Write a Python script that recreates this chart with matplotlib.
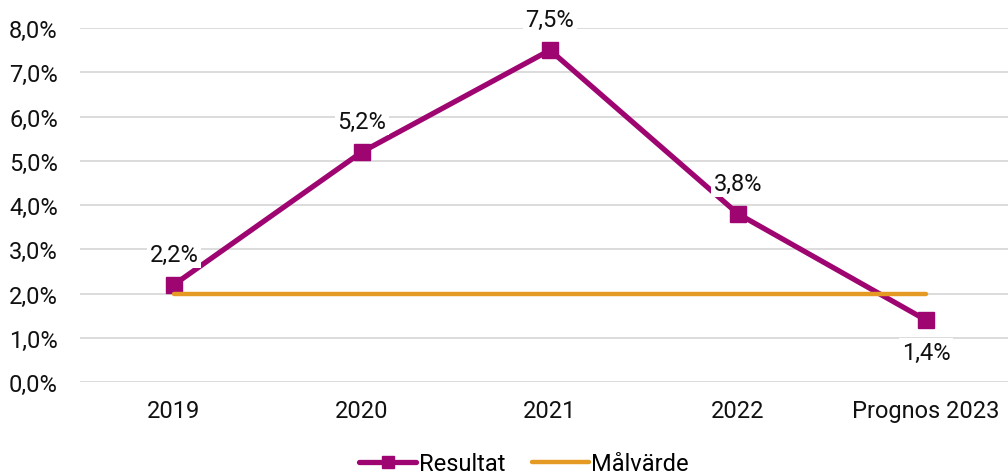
import matplotlib.pyplot as plt
import matplotlib.ticker as mticker

categories = ["2019", "2020", "2021", "2022", "Prognos 2023"]
resultat = [2.2, 5.2, 7.5, 3.8, 1.4]
malvarde = [2.0, 2.0, 2.0, 2.0, 2.0]
label_above = [True, True, True, True, False]

purple = "#9E0571"
orange = "#E59A23"

plt.rcParams['font.family'] = ['Roboto', 'DejaVu Sans']

fig = plt.figure(figsize=(10.08, 4.77), dpi=100)
ax = fig.add_axes([80/1008, 1 - 383/477, 940/1008, (383 - 29)/477])

x = range(len(categories))
ax.plot(x, resultat, color=purple, lw=3.8, marker='s', markersize=12,
        solid_capstyle='round', label='Resultat', zorder=3)
ax.plot(x, malvarde, color=orange, lw=3.2, solid_capstyle='round',
        label='Målvärde', zorder=4)

for xi, v, up in zip(x, resultat, label_above):
    ax.annotate(f"{v:.1f}%".replace('.', ','), (xi, v),
                xytext=(0, 22 if up else -23), textcoords='offset points',
                ha='center', va='center', fontsize=17, color='#111111',
                bbox=dict(boxstyle='square,pad=0.1', fc='white', ec='none'),
                zorder=5)

ax.set_xlim(-0.5, 4.5)
ax.set_ylim(0, 8)
ax.set_yticks([i for i in range(9)])
ax.yaxis.set_major_formatter(mticker.FuncFormatter(lambda v, p: f"{v:.1f}%".replace('.', ',')))
ax.set_xticks(list(x))
ax.set_xticklabels(categories)
ax.tick_params(length=0, labelsize=17, colors='#111111', pad=12)
ax.tick_params(axis='y', pad=16)
ax.grid(axis='y', color='#d9d9d9', lw=1.3)
ax.set_axisbelow(True)
for s in ax.spines.values():
    s.set_visible(False)

fig.legend(loc='center', bbox_to_anchor=(0.52, 1 - 465/477), ncol=2, frameon=False,
           fontsize=17, handlelength=2.4, columnspacing=1.15, handletextpad=0.1,
           markerscale=0.7, borderpad=0)

fig.savefig('out.png', dpi=100)
